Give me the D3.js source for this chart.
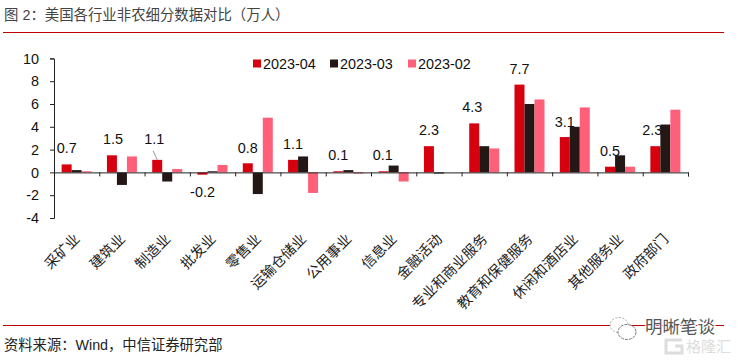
<!DOCTYPE html>
<html>
<head>
<meta charset="utf-8">
<script src="https://cdn.jsdelivr.net/npm/d3@7"></script>
<style>
  html, body { margin: 0; padding: 0; background: #fff; }
  text { font-family: "Liberation Sans", "Noto Sans CJK SC", sans-serif; }
</style>
</head>
<body>
<svg id="chart" width="738" height="361"></svg>
<script>
"use strict";

const categories = ["采矿业", "建筑业", "制造业", "批发业", "零售业", "运输仓储业", "公用事业", "信息业",
    "金融活动", "专业和商业服务", "教育和保健服务", "休闲和酒店业", "其他服务业", "政府部门"];
const seriesNames = ["2023-04", "2023-03", "2023-02"];
const apr = [0.7, 1.5, 1.1, -0.2, 0.8, 1.1, 0.1, 0.1, 2.3, 4.3, 7.7, 3.1, 0.5, 2.3];
const mar = [0.2, -1.1, -0.8, 0.1, -1.9, 1.4, 0.2, 0.6, -0.1, 2.3, 6.0, 4.0, 1.5, 4.2];
const feb = [0.1, 1.4, 0.3, 0.65, 4.8, -1.8, -0.1, -0.8, 0, 2.1, 6.4, 5.7, 0.5, 5.5];
const yTicks = [-4, -2, 0, 2, 4, 6, 8, 10];
const colors = ["#d7000f", "#231815", "#ff6079"];

// label nudges, pixels from the end of the april bar
const labelDx = [0, 1, -3, 0, 0, 0, 0, -1, 0, -2, 0, 0, 0, -3];
const labelDy = [-11, -11, -16, 22, -10, -11, -11, -11, -11, -11, -11, -10, -11, -11];

const svg = d3.select("#chart");

const xIndex = d3.scaleLinear().domain([0, categories.length]).range([54, 688]);
const x0 = d3.scaleBand().domain(categories).range([54, 688]);
const x1 = d3.scaleBand().domain(seriesNames).range([0, 30]);
const y = d3.scaleLinear().domain([-4, 10]).range([218, 58.4]);
const groupLeft = i => x0(categories[i]) + (x0.bandwidth() - 30) / 2;

// header and footer
svg.append("text").attr("x", 4).attr("y", 20)
    .attr("font-size", 14.4).attr("fill", "#444")
    .text("图 2：美国各行业非农细分数据对比（万人）");
svg.append("line").attr("x1", 3).attr("x2", 724).attr("y1", 32.5).attr("y2", 32.5)
    .attr("stroke", "#c00000").attr("stroke-width", 1);
svg.append("line").attr("x1", 3).attr("x2", 724).attr("y1", 325.5).attr("y2", 325.5)
    .attr("stroke", "#c00000").attr("stroke-width", 1);
svg.append("text").attr("x", 4).attr("y", 350)
    .attr("font-size", 14.3).attr("fill", "#222")
    .text("资料来源：Wind，中信证券研究部");

// bars
const allSeries = [apr, mar, feb];
seriesNames.forEach((name, s) => {
    svg.append("g").selectAll("rect")
        .data(allSeries[s])
        .join("rect")
        .attr("x", (d, i) => groupLeft(i) + x1(name))
        .attr("y", d => Math.min(y(d), y(0)))
        .attr("width", x1.bandwidth())
        .attr("height", d => Math.abs(y(d) - y(0)))
        .attr("fill", colors[s]);
});

// axes
const yAxis = svg.append("g").attr("transform", "translate(54,0)")
    .call(d3.axisLeft(y).tickValues(yTicks).tickSize(4).tickPadding(11).tickFormat(d => String(d)));
const xAxis = svg.append("g").attr("transform", `translate(0,${y(0)})`)
    .call(d3.axisBottom(xIndex).tickValues(d3.range(categories.length + 1)).tickSize(4).tickFormat(""));
[yAxis, xAxis].forEach(a => {
    a.selectAll("path,line").attr("stroke", "#222");
    a.selectAll("text").attr("font-size", 14.4).attr("fill", "#111")
        .attr("font-family", "Liberation Sans");
});

// rotated category labels
svg.append("g").selectAll("text")
    .data(categories)
    .join("text")
    .attr("transform", d => `translate(${x0(d) + x0.bandwidth() / 2 + 4},${240}) rotate(-45)`)
    .attr("text-anchor", "end")
    .attr("font-size", 14.2)
    .attr("fill", "#222")
    .text(d => d);

// value labels
svg.append("g").selectAll("text")
    .data(apr)
    .join("text")
    .attr("x", (d, i) => groupLeft(i) + x1.bandwidth() / 2 + labelDx[i])
    .attr("y", (d, i) => y(d) + labelDy[i])
    .attr("text-anchor", "middle")
    .attr("font-size", 14.4)
    .attr("fill", "#111")
    .text(d => d.toFixed(1));

// leader line of the manufacturing label
const leadX = groupLeft(2) + x1.bandwidth() / 2;
svg.append("line")
    .attr("x1", leadX - 4).attr("y1", y(apr[2]) - 9)
    .attr("x2", leadX).attr("y2", y(apr[2]))
    .attr("stroke", "#999").attr("stroke-width", 1);

// legend
const legendX = [253, 330, 408];
seriesNames.forEach((name, s) => {
    svg.append("rect").attr("x", legendX[s]).attr("y", 59.5).attr("width", 8).attr("height", 8).attr("fill", colors[s]);
    svg.append("text").attr("x", legendX[s] + 10).attr("y", 68.5)
        .attr("font-size", 14.4).attr("fill", "#111").text(name);
});

// watermark
const mark = svg.append("g");
mark.append("ellipse").attr("cx", 619).attr("cy", 325).attr("rx", 9).attr("ry", 7.5)
    .attr("fill", "#fff").attr("stroke", "#aaa").attr("stroke-dasharray", "2 1.5");
mark.append("ellipse").attr("cx", 627).attr("cy", 332).attr("rx", 9).attr("ry", 7.5)
    .attr("fill", "#fff").attr("stroke", "#777").attr("stroke-dasharray", "3 1");
mark.append("text").attr("x", 645).attr("y", 333)
    .attr("font-size", 17.5).attr("fill", "#555")
    .attr("stroke", "#fff").attr("stroke-width", 2).attr("paint-order", "stroke")
    .text("明晰笔谈");
mark.append("path").attr("d", "M682 340H666V353H682V346H675")
    .attr("fill", "none").attr("stroke", "#ddd").attr("stroke-width", 3);
mark.append("text").attr("x", 686).attr("y", 352)
    .attr("font-size", 15).attr("fill", "#ddd")
    .text("格隆汇");
</script>
</body>
</html>
